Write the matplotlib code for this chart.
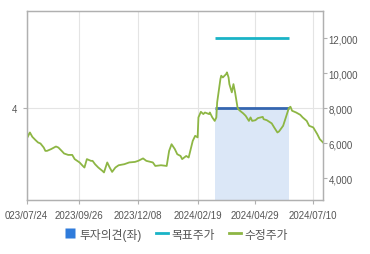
import matplotlib
matplotlib.use("Agg")
import matplotlib.pyplot as plt
from matplotlib.lines import Line2D
from matplotlib.ticker import FuncFormatter, FixedLocator
import pandas as pd

plt.rcParams["font.family"] = ["Liberation Sans", "Noto Sans CJK KR", "DejaVu Sans"]

price_dates = [
    "2023-07-24", "2023-07-25", "2023-07-28", "2023-07-31", "2023-08-04", "2023-08-07",
    "2023-08-10", "2023-08-14", "2023-08-16", "2023-08-18", "2023-08-23", "2023-08-29",
    "2023-09-01", "2023-09-05", "2023-09-08", "2023-09-13", "2023-09-18", "2023-09-21",
    "2023-09-27", "2023-10-01", "2023-10-03", "2023-10-06", "2023-10-11", "2023-10-13",
    "2023-10-16", "2023-10-20", "2023-10-25", "2023-10-27", "2023-10-31", "2023-11-03",
    "2023-11-06", "2023-11-10", "2023-11-14", "2023-11-21", "2023-11-27", "2023-12-04",
    "2023-12-08", "2023-12-14", "2023-12-18", "2023-12-26", "2023-12-29", "2024-01-05",
    "2024-01-12", "2024-01-15", "2024-01-18", "2024-01-22", "2024-01-25", "2024-01-29",
    "2024-01-31", "2024-02-05", "2024-02-08", "2024-02-13", "2024-02-16", "2024-02-19",
    "2024-02-20", "2024-02-23", "2024-02-26", "2024-02-28", "2024-03-04", "2024-03-05",
    "2024-03-08", "2024-03-11", "2024-03-13", "2024-03-14", "2024-03-18", "2024-03-19",
    "2024-03-21", "2024-03-25", "2024-03-26", "2024-03-28", "2024-03-29", "2024-04-01",
    "2024-04-03", "2024-04-05", "2024-04-08", "2024-04-09", "2024-04-11", "2024-04-15",
    "2024-04-18", "2024-04-22", "2024-04-24", "2024-04-26", "2024-04-30", "2024-05-03",
    "2024-05-09", "2024-05-10", "2024-05-14", "2024-05-20", "2024-05-23", "2024-05-27",
    "2024-05-29", "2024-06-03", "2024-06-07", "2024-06-10", "2024-06-12", "2024-06-14",
    "2024-06-19", "2024-06-24", "2024-06-27", "2024-07-02", "2024-07-05", "2024-07-10",
    "2024-07-15", "2024-07-18", "2024-07-22",
]
price_values = [
    7130, 6330, 6610, 6360, 6170, 6040,
    5980, 5750, 5560, 5560, 5660, 5810,
    5750, 5560, 5410, 5330, 5330, 5090,
    4900, 4700, 4610, 5090, 4990, 4990,
    4800, 4610, 4420, 4330, 4900, 4610,
    4360, 4610, 4740, 4800, 4900, 4930,
    4990, 5130, 4990, 4900, 4700, 4740,
    4700, 5560, 5940, 5660, 5370, 5270,
    5090, 5270, 5180, 6130, 6420, 6330,
    7470, 7790, 7660, 7750, 7660, 7750,
    7470, 7270, 7470, 8330, 9660, 9850,
    9750, 9940, 10040, 9750, 9370, 8900,
    9370, 8900, 8040, 7940, 7850, 7700,
    7560, 7270, 7470, 7270, 7310, 7430,
    7500, 7370, 7310, 7130, 6900, 6610,
    6670, 6990, 7560, 8000, 8080, 7850,
    7750, 7620, 7470, 7270, 6990, 6900,
    6510, 6230, 6040,
]

target_dates = ["2024-03-11", "2024-06-10"]
target_values = [12000, 12000]

opinion_dates = ["2024-03-11", "2024-06-10"]
opinion_values = [4, 4]

tick_dates = ["2023-07-24", "2023-09-26", "2023-12-08", "2024-02-19", "2024-04-29", "2024-07-10"]
tick_labels = ["023/07/24", "2023/09/26", "2023/12/08", "2024/02/19", "2024/04/29", "2024/07/10"]
right_ticks = [4000, 6000, 8000, 10000, 12000]

price_x = pd.to_datetime(price_dates)
target_x = pd.to_datetime(target_dates)
opinion_x = pd.to_datetime(opinion_dates)
tick_x = pd.to_datetime(tick_dates)

text_color = "#555555"
spine_color = "#b0b0b0"

fig = plt.figure(figsize=(3.7, 2.55), dpi=100)
ax = fig.add_axes([0.072, 0.212, 0.801, 0.741])
ax2 = ax.twinx()

# investment opinion (left axis)
ax.fill_between(opinion_x, 0, opinion_values, color="#dbe7f7", linewidth=0)
ax.plot(opinion_x, opinion_values, color="#3566b0", linewidth=2, solid_capstyle="butt")
ax.set_ylim(0, 8.23)
ax.yaxis.set_major_locator(FixedLocator([4]))
ax.grid(axis="y", color="#e4e4e4", linewidth=0.8)
ax.set_axisbelow(True)

# prices (right axis)
ax2.plot(target_x, target_values, color="#1ab3c6", linewidth=2, solid_capstyle="butt")
ax2.plot(price_x, price_values, color="#8db644", linewidth=1.3)
ax2.set_ylim(2760, 13543)
ax2.yaxis.set_major_locator(FixedLocator(right_ticks))
ax2.yaxis.set_major_formatter(FuncFormatter(lambda v, p: f"{int(v):,}"))

ax.set_xlim(pd.Timestamp("2023-07-24"), pd.Timestamp("2024-07-22"))
ax.set_xticks(tick_x)
ax.set_xticklabels(tick_labels)
for d in tick_x:
    ax.axvline(d, color="#e4e4e4", linewidth=0.8, zorder=0)

for a in (ax, ax2):
    for s in a.spines.values():
        s.set_color(spine_color)
        s.set_linewidth(0.9)
    a.tick_params(colors=spine_color, labelcolor=text_color, labelsize=7, length=3, width=0.8)
ax.tick_params(axis="x", pad=4)
ax2.tick_params(axis="y", pad=1)
ax.tick_params(axis="y", pad=4)

handles = [
    Line2D([0], [0], color="none", marker="s", markersize=6.5,
           markerfacecolor="#2f7bdb", markeredgecolor="none"),
    Line2D([0], [0], color="#1ab3c6", linewidth=2),
    Line2D([0], [0], color="#8db644", linewidth=2),
]
labels = ["투자의견(좌)", "목표주가", "수정주가"]
fig.legend(handles, labels, loc="center", bbox_to_anchor=(0.475, 0.078), ncol=3,
           frameon=False, fontsize=8.5, handlelength=1.0, handletextpad=0.3,
           columnspacing=1.2, labelcolor=text_color)

fig.savefig("out.png", dpi=100)
